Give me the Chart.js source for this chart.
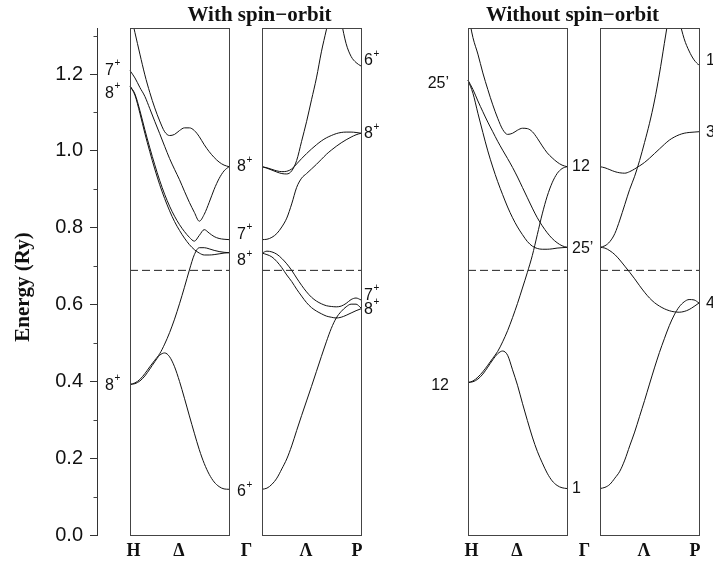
<!DOCTYPE html>
<html><head><meta charset="utf-8">
<script src="https://cdn.jsdelivr.net/npm/chart.js@4.4.1/dist/chart.umd.min.js"></script>
<style>html,body{margin:0;padding:0;background:#fff;}#c{display:block;}</style>
</head><body>
<canvas id="c" width="713" height="562"></canvas>
<script>
// ---- k-path sampling (fraction along each segment) ----
const kGrid = [0,0.05,0.1,0.15,0.2,0.25,0.3,0.35,0.4,0.45,0.5,0.55,0.6,0.65,0.7,0.75,0.8,0.85,0.9,0.95,1];

// ---- With spin-orbit: H -> Gamma (Delta) ----
const soHG_top = [1.365,1.308,1.252,1.198,1.152,1.112,1.078,1.050,1.040,1.043,1.053,1.060,1.060,1.053,1.037,1.016,0.998,0.983,0.971,0.963,0.959];
const soHG_7   = [1.209,1.190,1.165,1.142,1.110,1.077,1.045,1.012,0.980,0.952,0.925,0.895,0.866,0.840,0.817,0.835,0.866,0.900,0.928,0.948,0.959];
const soHG_8a  = [1.169,1.148,1.105,1.055,1.008,0.964,0.923,0.887,0.856,0.830,0.808,0.790,0.775,0.765,0.780,0.795,0.786,0.777,0.772,0.770,0.769];
const soHG_8b  = [1.169,1.145,1.098,1.046,0.998,0.953,0.912,0.876,0.844,0.816,0.793,0.773,0.756,0.743,0.734,0.729,0.729,0.730,0.732,0.734,0.735];
const soHG_up  = [0.392,0.396,0.405,0.420,0.438,0.455,0.472,0.497,0.527,0.562,0.602,0.645,0.690,0.730,0.748,0.748,0.745,0.741,0.738,0.736,0.735];
const soHG_dn  = [0.392,0.394,0.401,0.414,0.432,0.451,0.468,0.474,0.464,0.438,0.400,0.356,0.310,0.265,0.222,0.186,0.158,0.138,0.126,0.120,0.119];

// ---- With spin-orbit: Gamma -> P (Lambda) ----
const soGP_7   = [0.769,0.770,0.775,0.785,0.802,0.825,0.862,0.905,0.929,0.941,0.953,0.965,0.978,0.991,1.002,1.012,1.021,1.029,1.036,1.042,1.046];
const soGP_8u  = [0.959,0.956,0.952,0.948,0.946,0.947,0.953,0.966,0.980,0.993,1.005,1.016,1.026,1.034,1.040,1.045,1.048,1.049,1.049,1.048,1.046];
const soGP_st  = [0.959,0.955,0.950,0.945,0.941,0.940,0.948,0.975,1.025,1.076,1.133,1.190,1.258,1.315,1.370,null,null,null,null,null,null];
const soGP_6   = [null,null,null,null,null,null,null,null,null,null,null,null,null,null,null,1.410,1.338,1.279,1.246,1.230,1.221];
const soGP_du  = [0.734,0.739,0.737,0.731,0.720,0.706,0.689,0.669,0.650,0.633,0.619,0.609,0.602,0.597,0.595,0.594,0.596,0.603,0.613,0.617,0.612];
const soGP_dl  = [0.734,0.730,0.724,0.712,0.696,0.677,0.660,0.640,0.622,0.605,0.592,0.583,0.576,0.570,0.567,0.565,0.567,0.572,0.578,0.584,0.589];
const soGP_up  = [0.119,0.122,0.132,0.148,0.172,0.198,0.232,0.272,0.311,0.349,0.387,0.426,0.465,0.503,0.538,0.565,0.582,0.594,0.601,0.601,0.591];

// ---- Without spin-orbit: H -> Gamma ----
const noHG_top = [1.360,1.295,1.252,1.203,1.160,1.120,1.085,1.056,1.043,1.046,1.054,1.059,1.058,1.050,1.033,1.013,0.995,0.982,0.971,0.963,0.959];
const noHG_a   = [1.184,1.160,1.130,1.102,1.075,1.050,1.025,1.002,0.980,0.957,0.932,0.905,0.878,0.851,0.826,0.805,0.787,0.772,0.761,0.753,0.749];
const noHG_b   = [1.184,1.150,1.098,1.048,1.000,0.958,0.920,0.886,0.854,0.826,0.802,0.782,0.764,0.752,0.746,0.744,0.744,0.745,0.747,0.748,0.749];
const noHG_up  = [0.397,0.401,0.411,0.425,0.442,0.460,0.478,0.503,0.532,0.566,0.603,0.643,0.684,0.728,0.782,0.836,0.882,0.917,0.941,0.954,0.959];
const noHG_dn  = [0.397,0.399,0.406,0.419,0.437,0.456,0.472,0.479,0.468,0.430,0.390,0.343,0.298,0.255,0.218,0.188,0.161,0.141,0.129,0.123,0.121];

// ---- Without spin-orbit: Gamma -> P ----
const noGP_12  = [0.959,0.956,0.951,0.946,0.943,0.942,0.946,0.953,0.961,0.970,0.981,0.993,1.005,1.017,1.028,1.036,1.042,1.046,1.048,1.049,1.050];
const noGP_st  = [0.749,0.753,0.764,0.785,0.820,0.860,0.900,0.934,0.975,1.022,1.072,1.130,1.200,1.280,1.360,null,null,null,null,null,null];
const noGP_1   = [null,null,null,null,null,null,null,null,null,null,null,null,null,null,null,1.410,1.342,1.292,1.260,1.237,1.223];
const noGP_dn  = [0.749,0.747,0.740,0.730,0.716,0.700,0.684,0.667,0.649,0.632,0.617,0.605,0.596,0.589,0.584,0.581,0.580,0.582,0.587,0.595,0.604];
const noGP_up  = [0.121,0.124,0.132,0.148,0.166,0.195,0.232,0.268,0.309,0.350,0.393,0.435,0.475,0.511,0.545,0.573,0.594,0.607,0.613,0.612,0.604];

const fermiEnergy = 0.689;

// ---- axis / point labels ----
const kLabels = ['H','\u0394','\u0393','\u039B','P','H','\u0394','\u0393','\u039B','P'];
const yMin = 0, yMax = 1.32;

const soLabH = ['7','8','8'];        const soLabHE = [1.210,1.149,0.390];
const soLabG = ['8','7','8','6'];    const soLabGE = [0.958,0.782,0.714,0.112];
const soLabP = ['6','8','7','8'];    const soLabPE = [1.234,1.044,0.624,0.587];
const noLabH = ['25\u2019','12'];    const noLabHE = [1.174,0.390];
const noLabG = ['12','25\u2019','1'];const noLabGE = [0.958,0.745,0.120];
const noLabP = ['1','3','4'];        const noLabPE = [1.234,1.048,0.603];

// ---- layout (x units = pixels right of the energy axis) ----
const PANEL_W = 99;
const panelLeft = [33,165,371,503];
const groupLeft = [33,371];
const kLabelOffset = [3.5,49,116.5,176,227];
const kTickPos = [];
groupLeft.forEach(g => kLabelOffset.forEach(o => kTickPos.push(g + o)));

const panelBands = [
  [soHG_top,soHG_7,soHG_8a,soHG_8b,soHG_up,soHG_dn],
  [soGP_7,soGP_8u,soGP_st,soGP_6,soGP_du,soGP_dl,soGP_up],
  [noHG_top,noHG_a,noHG_b,noHG_up,noHG_dn],
  [noGP_12,noGP_st,noGP_1,noGP_dn,noGP_up]
];

const datasets = [];
panelBands.forEach((bands,p) => {
  bands.forEach(arr => {
    const pts = [];
    kGrid.forEach((t,i) => { if (arr[i] !== null) pts.push({x: panelLeft[p] + t*PANEL_W, y: arr[i]}); });
    datasets.push({data: pts, borderColor:'#111', borderWidth:1, showLine:true, pointRadius:0,
                   cubicInterpolationMode:'monotone', fill:false});
  });
  datasets.push({data:[{x:panelLeft[p],y:fermiEnergy},{x:panelLeft[p]+PANEL_W,y:fermiEnergy}],
                 borderColor:'#222', borderWidth:1, borderDash:[8,4], showLine:true, pointRadius:0});
});

const annot = {
  id:'annot',
  afterDraw(chart){
    const ctx = chart.ctx, xs = chart.scales.x, ys = chart.scales.y;
    ctx.save();
    // panel frames
    ctx.strokeStyle = '#444'; ctx.lineWidth = 1;
    const yt = Math.round(ys.getPixelForValue(yMax)) + 0.5, yb = Math.round(ys.getPixelForValue(yMin)) + 0.5;
    panelLeft.forEach(L => {
      const x0 = Math.round(xs.getPixelForValue(L)) + 0.5, x1 = Math.round(xs.getPixelForValue(L + PANEL_W)) + 0.5;
      ctx.strokeRect(x0, yt, x1 - x0, yb - yt);
    });
    // minor ticks on the energy axis
    const ax = Math.round(ys.right) + 0.5;
    ys.ticks.forEach(tk => {
      if (Math.round(tk.value*10) % 2 !== 0) {
        const y = Math.round(ys.getPixelForValue(tk.value)) + 0.5;
        ctx.beginPath(); ctx.moveTo(ax - 4, y); ctx.lineTo(ax, y); ctx.stroke();
      }
    });
    // titles
    ctx.fillStyle = '#111';
    ctx.font = 'bold 21px "Liberation Serif"';
    ctx.textAlign = 'center'; ctx.textBaseline = 'middle';
    ctx.fillText('With spin\u2212orbit', 259.5, 16);
    ctx.fillText('Without spin\u2212orbit', 572.5, 16);
    ctx.save();
    ctx.translate(24, 287); ctx.rotate(-Math.PI/2);
    ctx.fillText('Energy (Ry)', 0, 0);
    ctx.restore();
    // point-group labels
    function lab(texts, energies, xUnit, align, sup){
      texts.forEach((t,i) => {
        const y = ys.getPixelForValue(energies[i]);
        ctx.font = '16px "Liberation Sans"';
        const w = ctx.measureText(t).width;
        ctx.font = '10px "Liberation Sans"';
        const ws = sup ? ctx.measureText(sup).width : 0;
        let x = xs.getPixelForValue(xUnit);
        if (align === 'right') x -= (w + ws);
        ctx.textAlign = 'left'; ctx.textBaseline = 'middle';
        ctx.font = '16px "Liberation Sans"';
        ctx.fillText(t, x, y);
        if (sup) { ctx.font = '10px "Liberation Sans"'; ctx.fillText(sup, x + w + 0.5, y - 7); }
      });
    }
    lab(soLabH, soLabHE, 8, 'left', '+');
    lab(soLabG, soLabGE, 140, 'left', '+');
    lab(soLabP, soLabPE, 267, 'left', '+');
    lab(noLabH, noLabHE, 352, 'right', '');
    lab(noLabG, noLabGE, 475, 'left', '');
    lab(noLabP, noLabPE, 609, 'left', '');
    ctx.restore();
  }
};

new Chart(document.getElementById('c'), {
  type:'scatter',
  data:{datasets},
  options:{
    responsive:false, animation:false, devicePixelRatio:1,
    layout:{padding:{top:28,right:3,left:0,bottom:0}},
    plugins:{legend:{display:false}, tooltip:{enabled:false}, title:{display:false}},
    elements:{point:{radius:0}},
    scales:{
      x:{type:'linear', min:0, max:613,
         border:{display:false}, grid:{display:false, drawTicks:false},
         ticks:{autoSkip:false, maxRotation:0, padding:6, color:'#111',
                font:{family:'Liberation Serif', weight:'bold', size:18},
                callback:(v,i)=>kLabels[i]},
         afterBuildTicks:s=>{ s.ticks = kTickPos.map(v=>({value:v})); },
         afterFit:s=>{ s.height = 27; }},
      y:{type:'linear', min:yMin, max:yMax,
         border:{display:true, color:'#333', width:1},
         grid:{drawOnChartArea:false, drawTicks:true, tickLength:7,
               tickColor:c=> (c.tick && Math.round(c.tick.value*10)%2===0) ? '#333' : 'rgba(0,0,0,0)'},
         ticks:{stepSize:0.1, includeBounds:false, autoSkip:false, padding:7, color:'#111',
                font:{family:'Liberation Sans', size:20},
                callback:v=> (Math.round(v*10)%2===0) ? v.toFixed(1) : ''},
         afterFit:s=>{ s.width = 97; }}
    }
  },
  plugins:[annot]
});
</script>
</body></html>
